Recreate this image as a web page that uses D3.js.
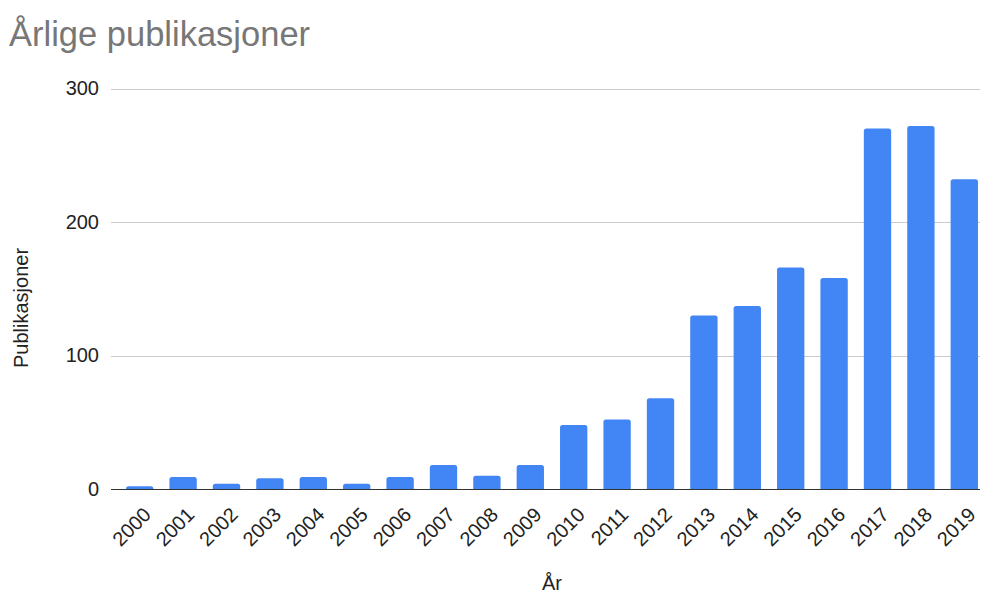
<!DOCTYPE html>
<html>
<head>
<meta charset="utf-8">
<script src="https://cdn.jsdelivr.net/npm/d3@7"></script>
<style>
  html, body { margin: 0; padding: 0; background: #fff; }
  svg { display: block; font-family: "Liberation Sans", Arial, sans-serif; }
</style>
</head>
<body>
<svg id="chart" width="984" height="593"></svg>
<script>
// Publications per year
const years = ["2000","2001","2002","2003","2004","2005","2006","2007","2008","2009",
               "2010","2011","2012","2013","2014","2015","2016","2017","2018","2019"];
const publications = [2, 9, 4, 8, 9, 4, 9, 18, 10, 18,
                      48, 52, 68, 130, 137, 166, 158, 270, 272, 232];
const yTicks = [0, 100, 200, 300];

const titleText = "Årlige publikasjoner";
const xTitle = "År";
const yTitle = "Publikasjoner";

const svg = d3.select("#chart");

const plotLeft = 111, plotRight = 980, plotTop = 88.5, plotBottom = 489;

const x = d3.scaleBand()
  .domain(years)
  .range([118, 986])
  .paddingInner(0.37)
  .paddingOuter(0.185);

const y = d3.scaleLinear()
  .domain([0, 300])
  .range([plotBottom, plotTop]);

// Title
svg.append("text")
  .attr("x", 9)
  .attr("y", 45.5)
  .attr("font-size", 34.5)
  .attr("fill", "#777777")
  .text(titleText);

// Gridlines
svg.append("g")
  .selectAll("line")
  .data(yTicks.filter(d => d !== 0))
  .join("line")
  .attr("x1", plotLeft)
  .attr("x2", plotRight)
  .attr("y1", d => Math.round(y(d)) + 0.5)
  .attr("y2", d => Math.round(y(d)) + 0.5)
  .attr("stroke", "#cccccc")
  .attr("stroke-width", 1);

// Y axis labels
const yAxis = d3.axisLeft(y).tickValues(yTicks).tickSize(0).tickPadding(0);
const yAxisG = svg.append("g")
  .attr("transform", "translate(99,0)")
  .call(yAxis);
yAxisG.select(".domain").remove();
yAxisG.selectAll("text")
  .attr("font-size", 20)
  .attr("font-family", "Liberation Sans, Arial, sans-serif")
  .attr("fill", "#222");

// Bars with slightly rounded tops
const r = 2.5;
function barPath(d, i) {
  const x0 = x(years[i]), w = x.bandwidth();
  const y0 = y(d), yb = y(0);
  const rr = Math.min(r, (yb - y0));
  return `M${x0},${yb} V${y0 + rr} Q${x0},${y0} ${x0 + rr},${y0} H${x0 + w - rr} Q${x0 + w},${y0} ${x0 + w},${y0 + rr} V${yb} Z`;
}
svg.append("g")
  .selectAll("path")
  .data(publications)
  .join("path")
  .attr("d", barPath)
  .attr("fill", "#4285f4");

// Baseline
svg.append("line")
  .attr("x1", plotLeft)
  .attr("x2", plotRight)
  .attr("y1", y(0) + 0.5)
  .attr("y2", y(0) + 0.5)
  .attr("stroke", "#333")
  .attr("stroke-width", 1.2);

// X axis labels, rotated
const xAxis = d3.axisBottom(x).tickSize(0).tickPadding(0);
const xAxisG = svg.append("g")
  .attr("transform", `translate(0,${y(0)})`)
  .call(xAxis);
xAxisG.select(".domain").remove();
xAxisG.selectAll(".tick text")
  .attr("font-size", 20)
  .attr("font-family", "Liberation Sans, Arial, sans-serif")
  .attr("fill", "#222")
  .attr("text-anchor", "end")
  .attr("dy", null)
  .attr("y", null)
  .attr("transform", "translate(12.5,27) rotate(-45)");

// Axis titles
svg.append("text")
  .attr("x", (x(years[0]) + x(years[years.length - 1]) + x.bandwidth()) / 2)
  .attr("y", 590)
  .attr("text-anchor", "middle")
  .attr("font-size", 20)
  .attr("fill", "#222")
  .text(xTitle);

svg.append("text")
  .attr("transform", "translate(28,308) rotate(-90)")
  .attr("text-anchor", "middle")
  .attr("font-size", 20)
  .attr("fill", "#222")
  .text(yTitle);
</script>
</body>
</html>
